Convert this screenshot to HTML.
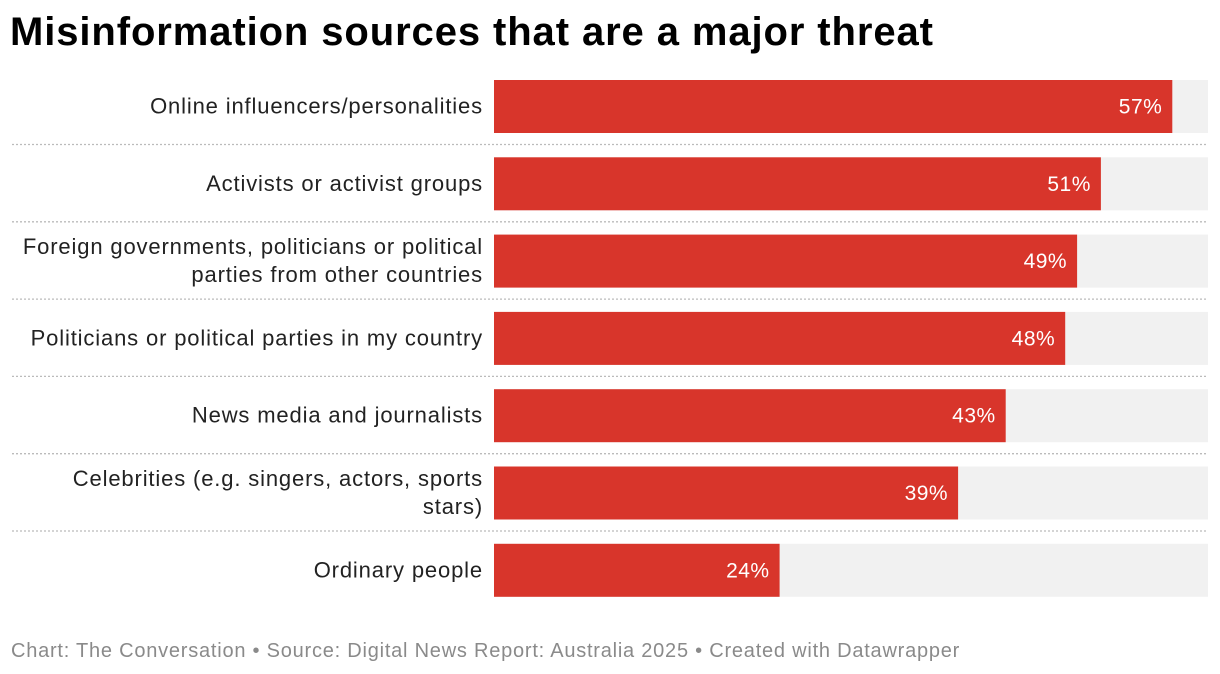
<!DOCTYPE html>
<html><head><meta charset="utf-8">
<style>
body{margin:0;background:#fff;width:1220px;height:674px;overflow:hidden;font-family:"Liberation Sans",sans-serif;}
#title{position:absolute;left:10px;top:10px;font-size:40px;font-weight:bold;color:#000;letter-spacing:0.9px;}
#foot{position:absolute;left:11px;top:640px;font-size:20px;color:#8a8a8a;letter-spacing:0.77px;}
svg{position:absolute;left:0;top:0;}
</style></head><body>
<div id="title">Misinformation sources that are a major threat</div>
<svg id="c" width="1220" height="674"></svg>
<div id="foot">Chart: The Conversation • Source: Digital News Report: Australia 2025 • Created with Datawrapper</div>
<script>
const categories=[["Online influencers/personalities"],["Activists or activist groups"],["Foreign governments, politicians or political","parties from other countries"],["Politicians or political parties in my country"],["News media and journalists"],["Celebrities (e.g. singers, actors, sports","stars)"],["Ordinary people"]];
const values=[57,51,49,48,43,39,24];
const domainMax=60;
const svg=document.getElementById('c');
const NS='http://www.w3.org/2000/svg';
const x0=494,x1=1208;
const xs=v=>x0+(x1-x0)*v/domainMax;
const rowY=i=>80+i*77.3;
const barH=53;
function mk(t,a){const e=document.createElementNS(NS,t);for(const k in a)e.setAttribute(k,a[k]);svg.appendChild(e);return e;}
values.forEach((v,i)=>{
  const y=rowY(i);
  const bg=mk('rect',{x:x0,y:y,width:x1-x0,height:barH,fill:'#f1f1f1'});
  
  
  const b=mk('rect',{x:x0,y:y,width:xs(v)-x0,height:barH,fill:'#d8352b'});
  
  
  const t=mk('text',{x:xs(v)-10,y:y+barH/2+7,'text-anchor':'end','font-size':21,fill:'#fff','letter-spacing':0.5});
  t.textContent=v+'%';
  
  
  const lines=categories[i];
  lines.forEach((ln,j)=>{
    const l=mk('text',{x:483,y:y+barH/2+7+(j-(lines.length-1)/2)*28,'text-anchor':'end','font-size':22,fill:'#222','letter-spacing':0.85});
    l.textContent=ln;
    
    
  });
  if(i<values.length-1){
    const s=mk('line',{x1:12,x2:1208,y1:y+barH+11.5,y2:y+barH+11.5,stroke:'#bbb','stroke-width':1.3,'stroke-dasharray':'2,2'});
    
    
  }
});
</script>
</body></html>
